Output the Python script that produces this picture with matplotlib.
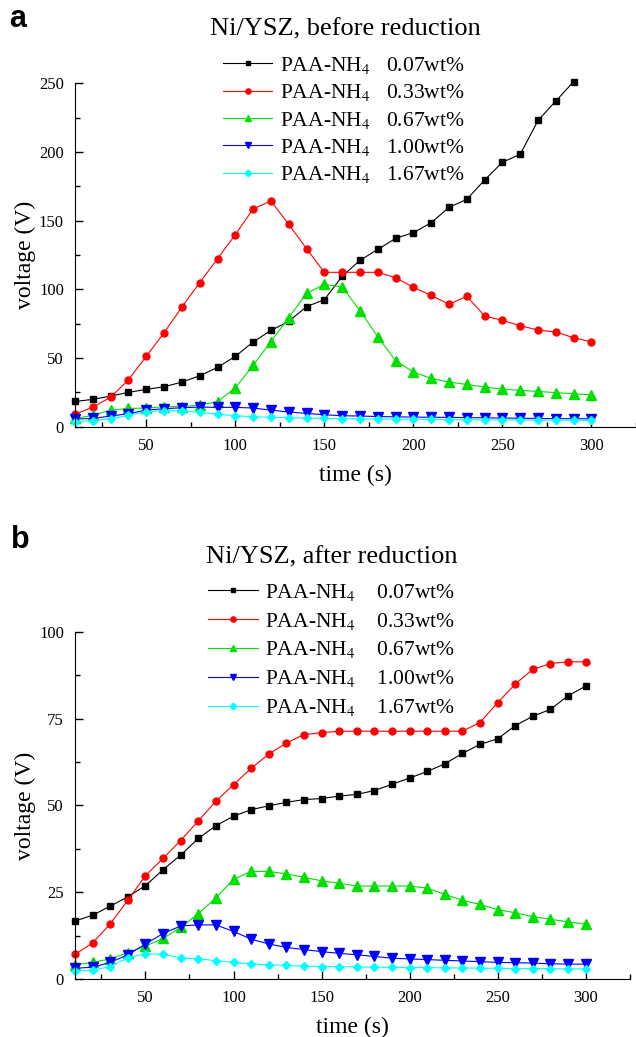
import matplotlib
matplotlib.use("Agg")
import matplotlib.pyplot as plt
from matplotlib.ticker import MultipleLocator
import numpy as np

plt.rcParams['font.family'] = ['Liberation Serif', 'DejaVu Serif']
plt.rcParams['mathtext.fontset'] = 'stix'

time = [10, 20, 30, 40, 50, 60, 70, 80, 90, 100, 110, 120, 130, 140, 150,
        160, 170, 180, 190, 200, 210, 220, 230, 240, 250, 260, 270, 280, 290, 300]

labels = ["0.07wt%", "0.33wt%", "0.67wt%", "1.00wt%", "1.67wt%"]

# Panel a: before reduction
a_007 = [18.4, 19.9, 22.3, 25.0, 27.2, 29.1, 32.5, 37.1, 43.2, 51.2, 61.7, 70.1, 76.7, 87.4, 92.5,
         109.5, 121.1, 129.1, 137.1, 141.3, 148.5, 159.7, 165.5, 179.6, 192.5, 198.3, 223.0, 237.1, 251.2]
a_033 = [9.0, 14.3, 21.4, 34.2, 51.2, 68.4, 87.1, 104.9, 122.3, 139.8, 158.5, 164.3, 147.3, 129.6, 112.4,
         112.4, 112.4, 112.4, 108.5, 101.5, 95.6, 89.1, 94.9, 80.6, 77.4, 73.5, 70.4, 68.9, 64.8, 61.7]
a_067 = [6.0, 8.3, 12.1, 13.3, 13.6, 14.6, 14.6, 15.8, 18.2, 28.4, 44.7, 61.9, 79.4, 97.1, 103.6,
         101.7, 84.5, 65.5, 48.1, 39.8, 35.2, 32.5, 30.8, 28.9, 27.4, 26.5, 25.7, 24.8, 24.0, 23.3]
a_100 = [5.6, 6.0, 7.8, 9.5, 12.1, 13.1, 13.8, 14.3, 14.1, 14.1, 13.6, 12.1, 10.7, 9.7, 8.7,
         8.0, 7.8, 7.4, 7.2, 7.0, 6.9, 6.8, 6.6, 6.5, 6.3, 6.2, 6.0, 5.9, 5.8, 5.7]
a_167 = [3.6, 4.4, 5.8, 8.3, 10.9, 11.7, 11.7, 10.4, 9.2, 8.0, 7.3, 6.8, 6.6, 6.3, 6.1,
         5.8, 5.7, 5.6, 5.5, 5.4, 5.3, 5.2, 5.1, 5.0, 4.9, 4.9, 4.8, 4.8, 4.7, 4.6]

# Panel b: after reduction
b_007 = [16.7, 18.4, 21.0, 23.7, 26.9, 31.5, 35.7, 40.5, 44.2, 46.9, 48.8, 49.9, 50.9, 51.7, 52.0,
         52.7, 53.2, 54.3, 56.1, 57.9, 59.8, 62.0, 65.0, 67.6, 69.2, 73.0, 75.7, 77.7, 81.6, 84.4]
b_033 = [7.1, 10.4, 15.9, 22.7, 29.8, 34.8, 39.9, 45.6, 51.2, 56.0, 60.7, 64.8, 68.0, 70.4, 71.0,
         71.4, 71.4, 71.4, 71.4, 71.4, 71.4, 71.4, 71.4, 73.9, 79.6, 85.0, 89.2, 90.9, 91.4, 91.4]
b_067 = [4.1, 4.8, 5.8, 7.6, 9.5, 11.7, 14.9, 18.8, 23.4, 28.7, 31.0, 31.0, 30.3, 29.3, 28.3,
         27.6, 26.8, 26.8, 26.8, 26.8, 26.2, 24.4, 22.7, 21.5, 20.0, 19.1, 18.0, 17.2, 16.5, 15.8]
b_100 = [3.1, 3.4, 4.8, 7.0, 10.1, 13.1, 15.3, 15.6, 15.6, 13.7, 11.5, 10.1, 9.1, 8.5, 7.9,
         7.4, 7.0, 6.5, 6.0, 5.8, 5.6, 5.4, 5.2, 5.0, 4.8, 4.7, 4.6, 4.4, 4.3, 4.3]
b_167 = [2.3, 2.5, 3.6, 6.1, 7.3, 7.1, 6.1, 5.8, 5.3, 4.8, 4.4, 4.1, 3.9, 3.7, 3.6,
         3.6, 3.5, 3.4, 3.4, 3.3, 3.3, 3.2, 3.2, 3.1, 3.1, 3.0, 3.0, 3.0, 2.9, 2.9]

styles = [dict(color='black', marker='s', ms=4),
          dict(color='red', marker='o', ms=5),
          dict(color='#00e000', marker='^', ms=6.5),
          dict(color='blue', marker='v', ms=6.5),
          dict(color='cyan', marker='D', ms=4.5)]

fig = plt.figure(figsize=(6.36, 10.37), dpi=100)
axa = fig.add_axes([0.118, 0.5885, 0.882, 0.3312])
axb = fig.add_axes([0.118, 0.0559, 0.872, 0.3347])

def draw(ax, series, ymax, ymajor, sep, leg_anchor, lspace):
    for vals, st, lab in zip(series, styles, labels):
        ax.plot(time[:len(vals)], vals, lw=0.8, clip_on=False,
                label="PAA-NH$_4$" + sep + lab, **st)
    ax.set_xlim(10, 325)
    ax.set_ylim(0, ymax)
    ax.xaxis.set_major_locator(MultipleLocator(50))
    ax.xaxis.set_minor_locator(MultipleLocator(25))
    ax.yaxis.set_major_locator(MultipleLocator(ymajor))
    ax.yaxis.set_minor_locator(MultipleLocator(ymajor / 2))
    ax.spines['top'].set_visible(False)
    ax.spines['right'].set_visible(False)
    ax.tick_params(which='major', direction='in', length=6, width=1, labelsize=12, pad=8)
    ax.tick_params(which='minor', direction='in', length=3.5, width=1)
    ax.set_xlabel("time (s)", fontsize=17, labelpad=8)
    ax.set_ylabel("voltage (V)", fontsize=17, labelpad=2)
    ax.legend(loc='center left', bbox_to_anchor=leg_anchor, frameon=False,
              fontsize=15.5, handlelength=2.3, handletextpad=0.35, labelspacing=lspace,
              borderaxespad=0, markerscale=0.75)

draw(axa, [a_007, a_033, a_067, a_100, a_167], 250, 50, "   ", (0.248, 0.893), 0.3)
draw(axb, [b_007, b_033, b_067, b_100, b_167], 100, 25, "    ", (0.225, 0.948), 0.37)

fig.text(345 / 636, 1 - 29 / 1037, "Ni/YSZ, before reduction", fontsize=19, ha='center', va='center')
fig.text(332 / 636, 1 - 557 / 1037, "Ni/YSZ, after reduction", fontsize=19, ha='center', va='center')

fig.text(0.015, 1 - 19 / 1037, "a", fontsize=22, fontweight='bold', family='Liberation Sans', va='center')
fig.text(0.018, 1 - 540 / 1037, "b", fontsize=22, fontweight='bold', family='Liberation Sans', va='center')

fig.savefig("out.png", dpi=100)
